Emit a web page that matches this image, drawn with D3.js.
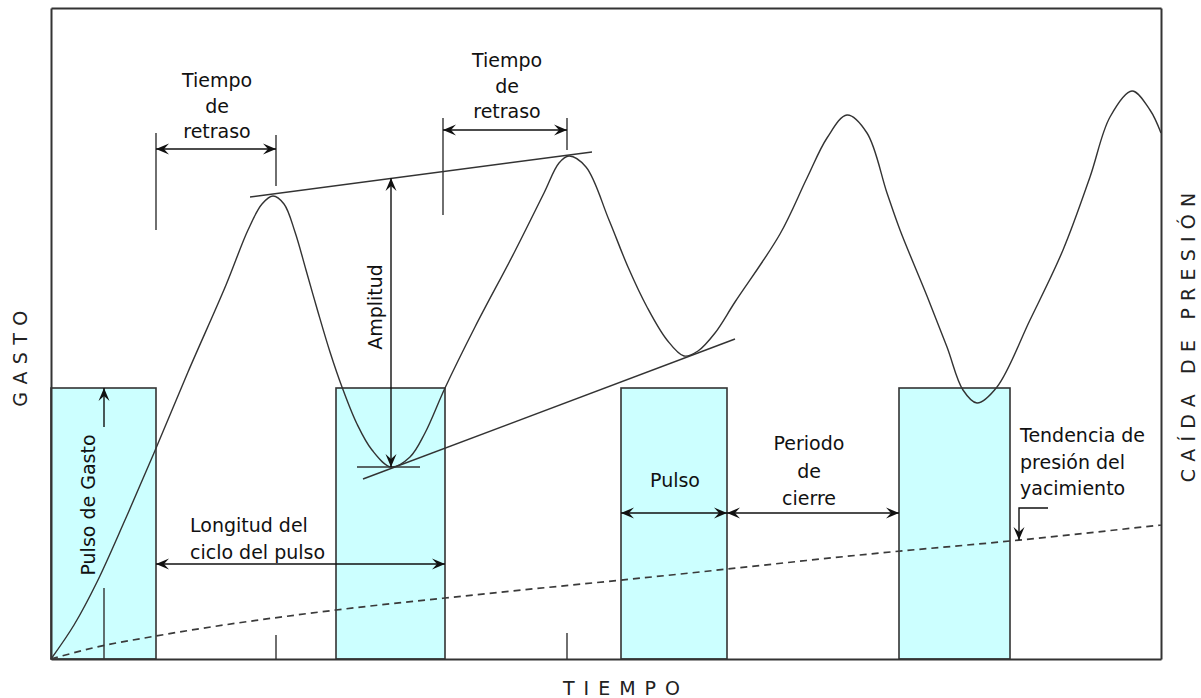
<!DOCTYPE html>
<html>
<head>
<meta charset="utf-8">
<script src="https://cdn.jsdelivr.net/npm/d3@7"></script>
<style>
  html, body { margin: 0; padding: 0; background: #fff; }
  svg { display: block; }
  .ann { font-family: "DejaVu Sans", Verdana, sans-serif; font-size: 19px; fill: #111; }
  .axt { font-family: "DejaVu Sans", Verdana, sans-serif; font-size: 19px; fill: #222; }
</style>
</head>
<body>
<svg id="chart" width="1201" height="698"></svg>
<script>
// ---- data (time units 0..111, gasto units 0..65.1) ----
const timeDomain = [0, 111];
const gastoDomain = [0, 65.1];

// rate pulses (start, end, height)
const pulseStart = [0, 28.5, 57.0, 84.8];
const pulseEnd   = [10.5, 39.4, 67.6, 95.9];
const pulseHeight = 27.1;

// observed pressure response
const responseT = [0,2.3,4.6,7.4,10.3,13.7,17.5,19.7,21.1,22.2, 23.3,24.4,25.5,26.7,27.9,29.1,30.6,32.1,34.0, 35.9,37.4,39.4,42.4,46.3,49.3,50.8,51.8, 53.5,55.8,57.7,59.6,61.6,63.3, 64.7,66.4,68.4,72.9,75.6,77.6,79.6, 81.6,83.6,84.9,87.6,89.6,91.2,92.6, 94.6,97.9,101.2,103.9,105.9,108.1,109.9,111];
const responseG = [0,3.4,7.7,13.9,20.6,28.7,37.4,42.9,45.5,46.3, 45.5,42.7,38.9,34.7,30.7,27.2,23.5,20.9,19.2, 20.2,22.6,27.1,33.2,40.6,46.6,49.6,50.3, 49.2,43.9,39.2,35.2,31.9,30.3, 30.8,32.6,35.7,42.5,48.1,52.1,54.4, 52.6,46.6,42.9,36.3,31.2,26.9,25.6, 27.2,33.9,40.9,48.2,54.2,56.8,54.9,52.6];

// reservoir pressure trend (dashed)
const trendT = [0, 4.6, 10.5, 28.5, 39.4, 62.0, 82.9, 95.9, 111];
const trendG = [0, 1.2, 2.3, 4.9, 6.1, 8.4, 10.6, 11.8, 13.4];

// envelope / guide lines [t1, g1, t2, g2]
const upperEnvelope = [19.9, 46.2, 54.1, 50.7];
const lowerEnvelope = [31.2, 18.0, 68.4, 32.0];
const troughBar     = [30.6, 19.2, 36.9, 19.2];

// plain marker lines [t1, g1, t2, g2]
const markerLines = [
  [10.5, 52.6, 10.5, 42.9],
  [22.5, 52.4, 22.5, 47.3],
  [39.2, 54.1, 39.2, 44.4],
  [51.6, 54.1, 51.6, 50.9],
  [5.3, 7.1, 5.3, 0],
  [22.5, 2.4, 22.5, 0],
  [51.6, 2.6, 51.6, 0]
];

// arrows [t1, g1, t2, g2, both-ended]
const arrows = [
  [10.5, 51.0, 22.5, 51.0, true],   // tiempo de retraso 1
  [39.2, 52.9, 51.6, 52.9, true],   // tiempo de retraso 2
  [34.0, 48.1, 34.0, 19.2, true],   // amplitud
  [10.5, 9.5, 39.4, 9.5, true],     // longitud del ciclo
  [57.0, 14.6, 67.6, 14.6, true],   // pulso
  [67.6, 14.6, 84.8, 14.6, true],   // periodo de cierre
  [5.3, 23.2, 5.3, 27.1, false]     // pulso de gasto
];

// text labels
const delayLines = ["Tiempo", "de", "retraso"];
const cycleLines = ["Longitud del", "ciclo del pulso"];
const shutLines  = ["Periodo", "de", "cierre"];
const trendLines = ["Tendencia de", "presión del", "yacimiento"];
const pulseLabel = "Pulso";
const rateLabel  = "Pulso de Gasto";
const ampLabel   = "Amplitud";
const xTitle = "TIEMPO";
const yTitle = "GASTO";
const y2Title = "CAÍDA DE PRESIÓN";

// ---- drawing ----
const svg = d3.select("#chart");
const x = d3.scaleLinear().domain(timeDomain).range([51, 1161]);
const y = d3.scaleLinear().domain(gastoDomain).range([659, 8]);
const ink = "#333";

const defs = svg.append("defs");
defs.append("marker")
  .attr("id", "ah")
  .attr("viewBox", "-14 -7 15 14")
  .attr("refX", 0).attr("refY", 0)
  .attr("markerWidth", 15).attr("markerHeight", 14)
  .attr("markerUnits", "userSpaceOnUse")
  .attr("orient", "auto-start-reverse")
  .append("path")
  .attr("d", "M0,0 L-13,-5.5 L-8,0 L-13,5.5 Z")
  .attr("fill", "#111");

// pulses
svg.append("g").selectAll("rect")
  .data(pulseStart.map((s, i) => ({ s, e: pulseEnd[i] })))
  .join("rect")
  .attr("x", d => x(d.s))
  .attr("y", y(pulseHeight))
  .attr("width", d => x(d.e) - x(d.s))
  .attr("height", y(0) - y(pulseHeight))
  .attr("fill", "#ccffff")
  .attr("stroke", ink)
  .attr("stroke-width", 1.6);

// frame via axes without ticks
const frame = svg.append("g");
frame.append("g").attr("transform", `translate(0,${y(0)})`)
  .call(d3.axisBottom(x).ticks(0).tickSizeOuter(0));
frame.append("g").attr("transform", `translate(0,${y(gastoDomain[1])})`)
  .call(d3.axisTop(x).ticks(0).tickSizeOuter(0));
frame.append("g").attr("transform", `translate(${x(0)},0)`)
  .call(d3.axisLeft(y).ticks(0).tickSizeOuter(0));
frame.append("g").attr("transform", `translate(${x(timeDomain[1])},0)`)
  .call(d3.axisRight(y).ticks(0).tickSizeOuter(0));
frame.selectAll(".domain").attr("stroke", ink).attr("stroke-width", 2);

// trend dashed
const trendLine = d3.line().x(d => x(d[0])).y(d => y(d[1])).curve(d3.curveMonotoneX);
svg.append("path")
  .datum(trendT.map((t, i) => [t, trendG[i]]))
  .attr("d", trendLine)
  .attr("fill", "none")
  .attr("stroke", "#3a3a3a")
  .attr("stroke-width", 1.7)
  .attr("stroke-dasharray", "7,5");

// response curve
const respLine = d3.line().x(d => x(d[0])).y(d => y(d[1])).curve(d3.curveCatmullRom.alpha(0.5));
svg.append("path")
  .datum(responseT.map((t, i) => [t, responseG[i]]))
  .attr("d", respLine)
  .attr("fill", "none")
  .attr("stroke", ink)
  .attr("stroke-width", 1.4);

// guide lines
const seg = [upperEnvelope, lowerEnvelope, troughBar].concat(markerLines);
svg.append("g").selectAll("line")
  .data(seg)
  .join("line")
  .attr("x1", d => x(d[0])).attr("y1", d => y(d[1]))
  .attr("x2", d => x(d[2])).attr("y2", d => y(d[3]))
  .attr("stroke", ink)
  .attr("stroke-width", 1.4);

// arrows
svg.append("g").selectAll("line")
  .data(arrows)
  .join("line")
  .attr("x1", d => x(d[0])).attr("y1", d => y(d[1]))
  .attr("x2", d => x(d[2])).attr("y2", d => y(d[3]))
  .attr("stroke", "#111")
  .attr("stroke-width", 1.4)
  .attr("marker-end", "url(#ah)")
  .attr("marker-start", d => d[4] ? "url(#ah)" : null);

// bent arrow for trend
svg.append("path")
  .attr("d", d3.line()([[x(99.7), y(15.1)], [x(96.8), y(15.1)], [x(96.8), y(11.9)]]))
  .attr("fill", "none")
  .attr("stroke", "#111")
  .attr("stroke-width", 1.4)
  .attr("marker-end", "url(#ah)");

// multi-line text helper
function block(lines, tx, gBase, anchor, lh) {
  const t = svg.append("text").attr("class", "ann").attr("text-anchor", anchor);
  lines.forEach((s, i) => {
    t.append("tspan").attr("x", x(tx)).attr("y", y(gBase) + i * lh).text(s);
  });
}
block(delayLines, 16.6, 57.2, "middle", 25.5);
block(delayLines, 45.6, 59.2, "middle", 25.5);
block(cycleLines, 13.9, 12.7, "start", 26.5);
block(shutLines, 75.8, 20.9, "middle", 27.5);
block(trendLines, 96.9, 21.7, "start", 26.6);
block([pulseLabel], 62.4, 17.2, "middle", 0);

// rotated labels
function rot(txt, tx, gy, cls, ls) {
  svg.append("text").attr("class", cls)
    .attr("text-anchor", "middle")
    .attr("dy", "0.35em")
    .attr("transform", `translate(${tx},${gy}) rotate(-90)`)
    .style("letter-spacing", ls ? ls + "px" : null)
    .text(txt);
}
rot(rateLabel, x(3.7), y(15.4), "ann", 0);
rot(ampLabel, x(32.4), y(35.2), "ann", 0);
rot(yTitle, 20, 355, "axt", 7.4);
rot(y2Title, 1188, 334, "axt", 7.2);

svg.append("text").attr("class", "axt")
  .attr("text-anchor", "middle")
  .attr("x", 626).attr("y", 695)
  .style("letter-spacing", "9px")
  .text(xTitle);
</script>
</body>
</html>
